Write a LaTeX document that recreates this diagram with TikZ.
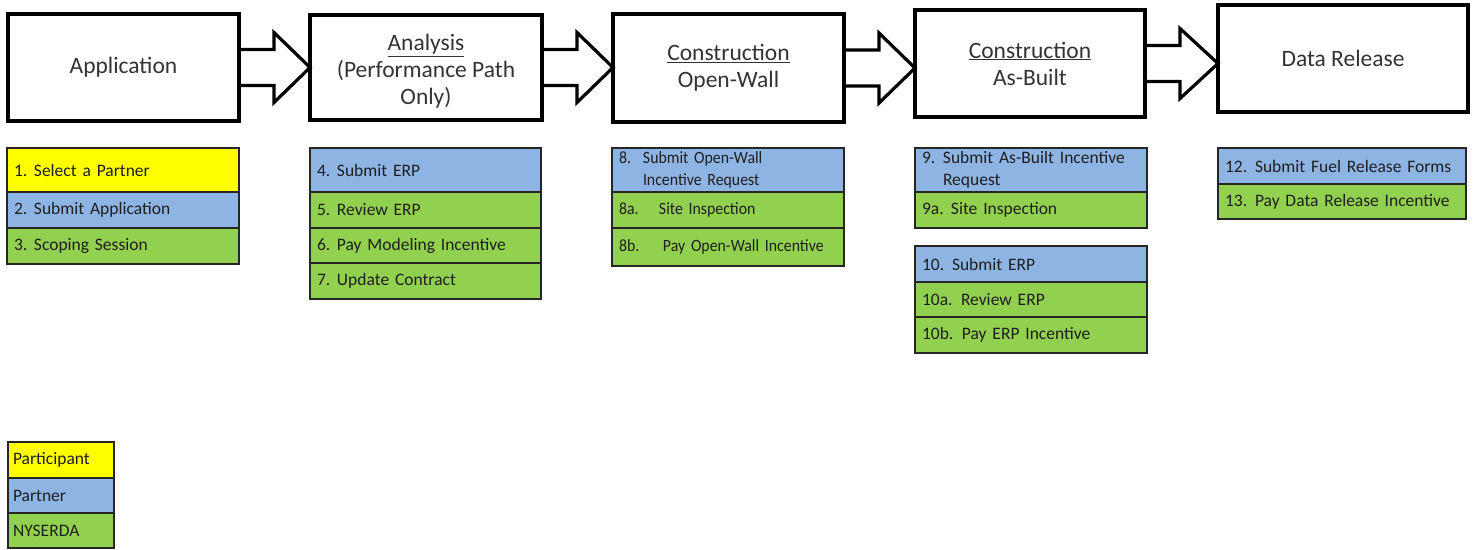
\documentclass[tikz,border=0pt]{standalone}
\usepackage{fontspec}
\setmainfont{Carlito}
\newfontfamily\condensedfont[FakeStretch=0.92]{Carlito}
\usetikzlibrary{calc}
\definecolor{pyellow}{HTML}{FFFF00}
\definecolor{pblue}{HTML}{8EB4E3}
\definecolor{pgreen}{HTML}{92D050}
\newcommand{\numbox}[2]{\makebox[#1][l]{#2}}
\hyphenpenalty=10000
\tikzset{
  hbox/.style={draw=black, line width=3.5pt, rectangle, inner sep=0pt, outer sep=0pt,
    anchor=north west, align=center, font=\fontsize{23.5}{27}\selectfont, text=black!80},
  listrow/.style={draw=black!85, line width=1.3pt, rectangle, inner xsep=7pt, inner ysep=0pt,
    outer sep=0pt, anchor=north west, align=left, font=\fontsize{17.5}{22}\selectfont, text=black!88},
  lcell/.style n args={3}{listrow, fill=#1, text width=#2, minimum height=#3},
  narrowtext/.style={font=\condensedfont\fontsize{17.2}{22}\selectfont},
  blockarrow/.style={draw=black, line width=3.2pt, line join=miter},
}
\begin{document}
\begin{tikzpicture}[x=1pt,y=-1pt]
\useasboundingbox (0,0) rectangle (1475,549);

% phase boxes
\node[hbox, minimum width=231pt, minimum height=107pt] (b1) at (8,14) {Application};
\node[hbox, minimum width=232pt, minimum height=105pt] (b2) at (310,15) {\rule{0pt}{24pt}\underline{Analysis}\\(Performance Path\\Only)};
\node[hbox, minimum width=231pt, minimum height=108pt] (b3) at (613,14) {\underline{Construction}\\Open-Wall};
\node[hbox, minimum width=230pt, minimum height=107pt] (b4) at (915,10) {\underline{Construction}\\As-Built};
\node[hbox, minimum width=250pt, minimum height=107pt] (b5) at (1218,5) {Data Release};

% block arrows between phases
\foreach \s/\t in {b1/b2,b2/b3,b3/b4,b4/b5}{
  \draw[blockarrow] ($(\s.east)+(0,-18)$) -- ++(35,0) -- ++(0,-17)
    -- (\t.west |- \s.east) -- ($(\s.east)+(35,35)$) -- ++(0,-17) -- ($(\s.east)+(0,18)$);
}

% list A
\node[lcell={pyellow}{218pt}{44pt}] (a1) at (7,148) {\numbox{20pt}{1.}Select a Partner};
\node[lcell={pblue}{218pt}{36pt}] (a2) at (7,192) {\numbox{20pt}{2.}Submit Application};
\node[lcell={pgreen}{218pt}{36pt}] (a3) at (7,228) {\numbox{20pt}{3.}Scoping Session};

% list B
\node[lcell={pblue}{217pt}{44pt}] (c4) at (310,148) {\numbox{20pt}{4.}Submit ERP};
\node[lcell={pgreen}{217pt}{36pt}] (c5) at (310,192) {\numbox{20pt}{5.}Review ERP};
\node[lcell={pgreen}{217pt}{35pt}] (c6) at (310,228) {\numbox{20pt}{6.}Pay Modeling Incentive};
\node[lcell={pgreen}{217pt}{36pt}] (c7) at (310,263) {\numbox{20pt}{7.}Update Contract};

% list C
\node[lcell={pblue}{218pt}{44pt}, narrowtext] (c8) at (612,148) {\numbox{24pt}{8.}Submit Open-Wall\\\numbox{24pt}{}Incentive Request};
\node[lcell={pgreen}{218pt}{36pt}, narrowtext] (c8a) at (612,192) {\numbox{40pt}{8a.}Site Inspection};
\node[lcell={pgreen}{218pt}{38pt}, narrowtext] (c8b) at (612,228) {\numbox{44pt}{8b.}Pay Open-Wall Incentive};

% list D
\node[lcell={pblue}{218pt}{44pt}] (c9) at (915,148) {\numbox{21pt}{9.}Submit As-Built Incentive\\\numbox{21pt}{}Request};
\node[lcell={pgreen}{218pt}{36pt}] (c9a) at (915,192) {\numbox{29pt}{9a.}Site Inspection};
\node[lcell={pblue}{218pt}{36pt}] (c10) at (915,246) {\numbox{30pt}{10.}Submit ERP};
\node[lcell={pgreen}{218pt}{35pt}] (c10a) at (915,282) {\numbox{39pt}{10a.}Review ERP};
\node[lcell={pgreen}{218pt}{36pt}] (c10b) at (915,317) {\numbox{40pt}{10b.}Pay ERP Incentive};

% list E
\node[lcell={pblue}{234pt}{36pt}] (c12) at (1218,148) {\numbox{30pt}{12.}Submit Fuel Release Forms};
\node[lcell={pgreen}{234pt}{35pt}] (c13) at (1218,184) {\numbox{30pt}{13.}Pay Data Release Incentive};

% legend
\node[lcell={pyellow}{96pt}{36pt}, inner xsep=5pt] (l1) at (8,442) {Participant};
\node[lcell={pblue}{96pt}{35pt}, inner xsep=5pt] (l2) at (8,478) {Partner};
\node[lcell={pgreen}{96pt}{35pt}, inner xsep=5pt] (l3) at (8,513) {NYSERDA};
\end{tikzpicture}
\end{document}
